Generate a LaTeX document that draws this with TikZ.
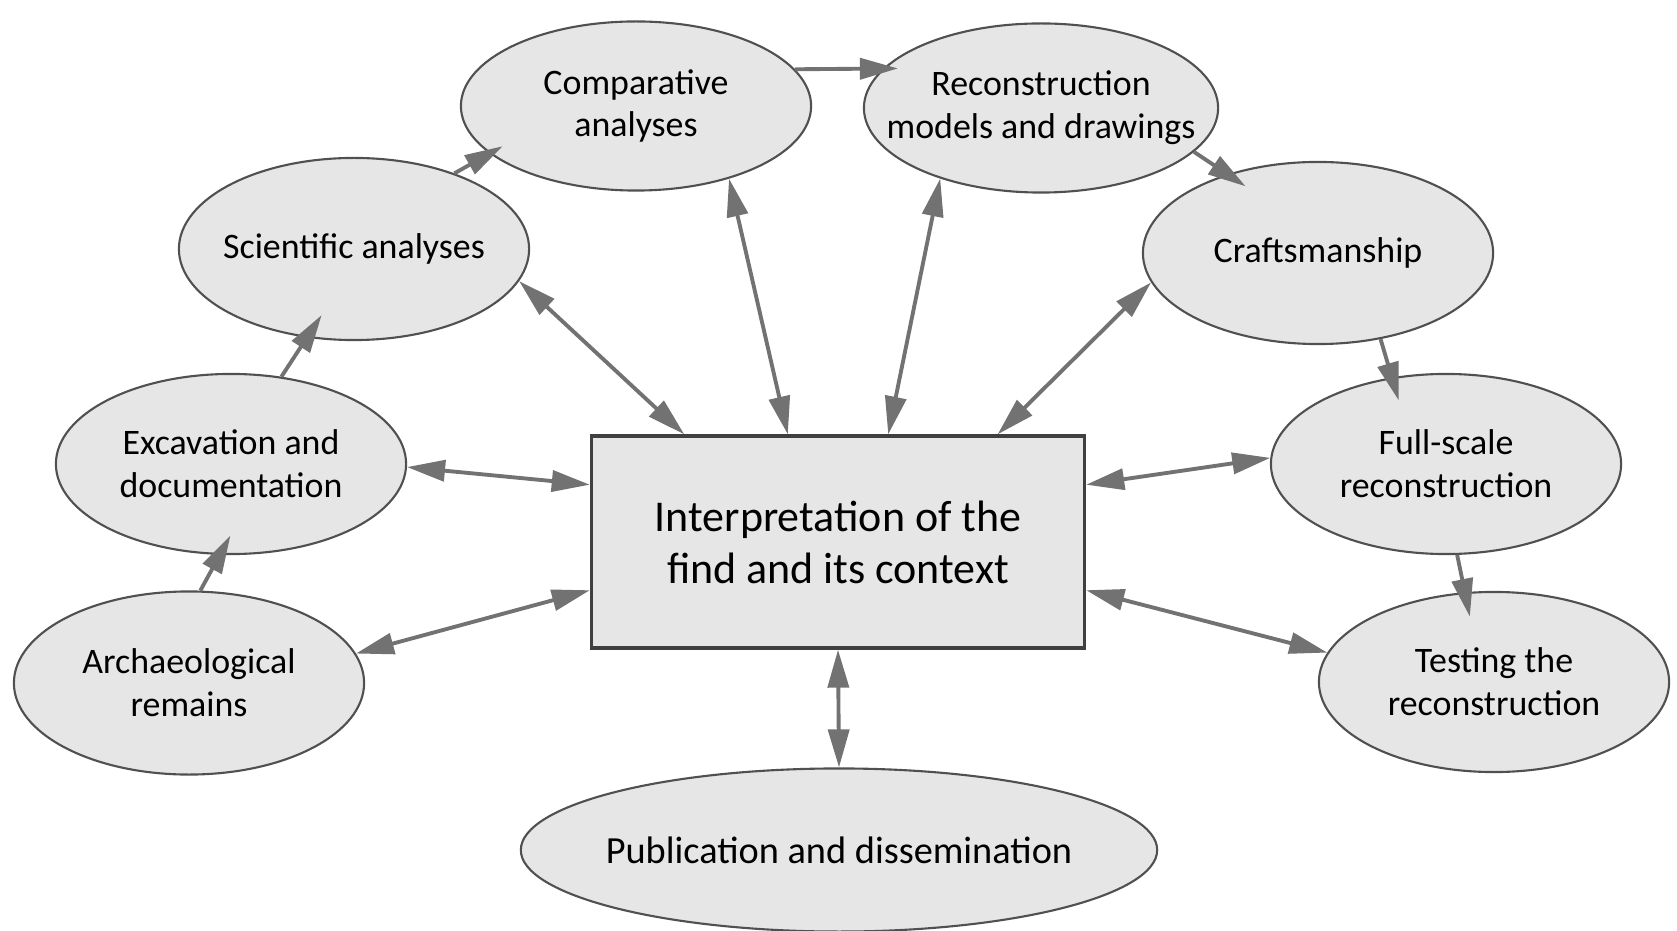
\documentclass[tikz,border=0pt]{standalone}
\usepackage{fontspec}
\setmainfont{Carlito}
\usetikzlibrary{arrows.meta,shapes.geometric}
\definecolor{bubblegray}{RGB}{230,230,230}
\definecolor{edgegray}{RGB}{80,80,80}
\definecolor{arrowgray}{RGB}{114,114,114}

\begin{document}
\begin{tikzpicture}[x=0.01cm, y=-0.01cm,
  bubble/.style={ellipse, draw=edgegray, line width=0.6pt, fill=bubblegray,
    minimum width=3.5cm, minimum height=1.8cm, inner xsep=-0.45cm, inner ysep=-0.2cm,
    align=center, font=\fontsize{10.2}{12.2}\selectfont},
  centrebox/.style={rectangle, draw=edgegray!80!black, line width=0.9pt, fill=bubblegray,
    minimum width=4.93cm, minimum height=2.12cm, align=center,
    font=\fontsize{12.5}{14.8}\selectfont},
  flow/.style={-{Triangle[length=3.8mm,width=2.1mm]}, arrowgray, line width=1.1pt},
  link/.style={{Triangle[length=3.8mm,width=2.1mm]}-{Triangle[length=3.8mm,width=2.1mm]},
    arrowgray, line width=1.1pt}]
  \useasboundingbox (0,0) rectangle (1677,931);
  % Outer ring of activities
  \node[bubble, minimum height=1.83cm] (remains) at (189,683) {Archaeological\\remains};
  \node[bubble] (excavation) at (231,464) {Excavation and\\documentation};
  \node[bubble, minimum height=1.82cm] (science) at (354,249) {Scientific analyses};
  \node[bubble, minimum height=1.69cm] (compare) at (636,106) {Comparative\\analyses};
  \node[bubble, minimum width=3.54cm, minimum height=1.69cm] (models) at (1041,108) {Reconstruction\\models and drawings};
  \node[bubble, minimum height=1.82cm] (craft) at (1318,253) {Craftsmanship};
  \node[bubble] (fullscale) at (1446,464) {Full-scale\\reconstruction};
  \node[bubble] (testing) at (1494,682) {Testing the\\reconstruction};
  \node[bubble, minimum width=6.36cm, minimum height=1.63cm, font=\fontsize{10.9}{13}\selectfont] (publish) at (839,850) {Publication and dissemination};
  % Centre
  \node[centrebox] (interp) at (838,542) {Interpretation of the\\find and its context};
  % Work flow round the ring
  \draw[flow, shorten >=-0.22cm] (remains.83) -- (excavation.-97);
  \draw[flow, shorten >=-0.27cm] (excavation.60) -- (science.-118);
  \draw[flow, shorten >=-0.15cm] (science.37) -- (compare.-162);
  \draw[flow, shorten >=-0.15cm] (compare.13) -- (models.166);
  \draw[flow, shorten >=-0.22cm] (models.-16) -- (craft.139);
  \draw[flow, shorten >=-0.24cm] (craft.-54) -- (fullscale.122);
  \draw[flow, shorten >=-0.25cm] (fullscale.-83) -- (testing.108);
  % Links to the interpretation
  \draw[link] (remains.10) -- (interp.191);
  \draw[link] (excavation.-1) -- (interp.167);
  \draw[link] (science.-11) -- (interp.145);
  \draw[link] (compare.-38) -- (interp.115);
  \draw[link] (models.-145) -- (interp.65);
  \draw[link] (craft.-170) -- (interp.34);
  \draw[link] (interp.13) -- (fullscale.178);
  \draw[link] (interp.-11) -- (testing.170);
  \draw[link] (interp.south) -- (publish.north);
\end{tikzpicture}
\end{document}
